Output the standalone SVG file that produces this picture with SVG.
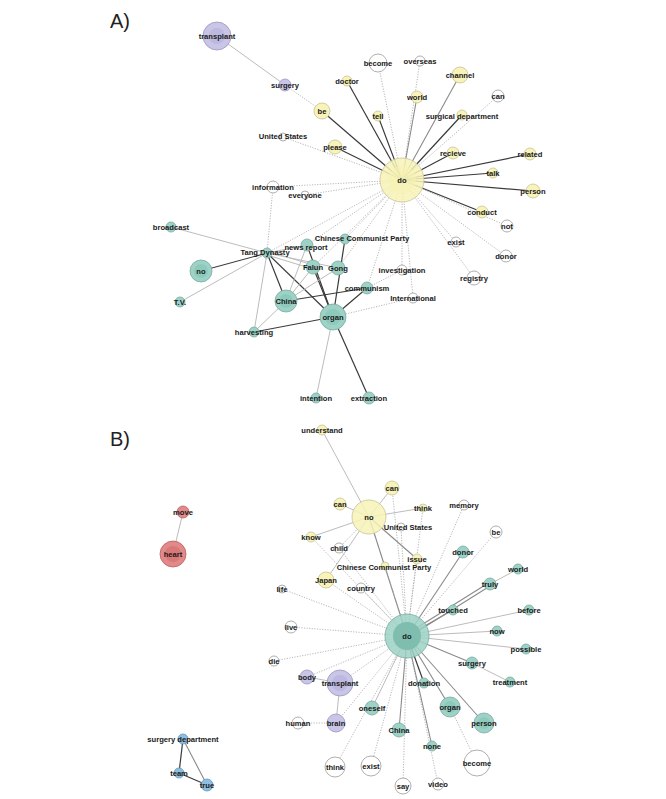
<svg xmlns="http://www.w3.org/2000/svg" width="666" height="799" viewBox="0 0 666 799">
<style>
text{font-family:"Liberation Sans",Arial,sans-serif;font-size:7.6px;font-weight:bold;fill:#1a1a1a;text-anchor:middle;dominant-baseline:central}
.panel{font-size:20px;font-weight:normal;text-anchor:start;dominant-baseline:auto;fill:#222}
.y{fill:#f7f3b9;stroke:#c8c397;stroke-width:0.8}
.t{fill:#9ed2c6;stroke:#79ab9f;stroke-width:0.8}
.p{fill:#c8c5e6;stroke:#9a96c4;stroke-width:0.8}
.w{fill:#fff;stroke:#9a9a9a;stroke-width:0.8}
.r{fill:#e28a89;stroke:#bb6060;stroke-width:0.8}
.b{fill:#8fbfe0;stroke:#6596ba;stroke-width:0.8}
.hub{fill-opacity:0.85}
.d{stroke:#3a3a3a;stroke-width:1.2;fill:none}
.m{stroke:#8a8a8a;stroke-width:1.1;fill:none}
.l{stroke:#bcbcbc;stroke-width:1;fill:none}
.o{stroke:#a6a6a6;stroke-width:0.8;stroke-dasharray:1.2 1.4;fill:none}
</style>
<text class="panel" x="110" y="28">A)</text>
<text class="panel" x="110" y="446">B)</text>
<g id="connectors">
<line class="l" x1="217" y1="36" x2="285" y2="85"/>
<line class="o" x1="285" y1="85" x2="322" y2="111"/>
<line class="d" x1="322" y1="111" x2="402" y2="180"/>
<line class="d" x1="347" y1="81" x2="402" y2="180"/>
<line class="d" x1="335" y1="147" x2="402" y2="180"/>
<line class="o" x1="283" y1="137" x2="402" y2="180"/>
<line class="o" x1="273" y1="187" x2="402" y2="180"/>
<line class="o" x1="305" y1="195" x2="402" y2="180"/>
<line class="o" x1="378" y1="63" x2="402" y2="180"/>
<line class="o" x1="420" y1="61" x2="402" y2="180"/>
<line class="m" x1="460" y1="75" x2="402" y2="180"/>
<line class="m" x1="417" y1="97" x2="402" y2="180"/>
<line class="o" x1="498" y1="96" x2="402" y2="180"/>
<line class="d" x1="378" y1="116" x2="402" y2="180"/>
<line class="d" x1="462" y1="115" x2="402" y2="180"/>
<line class="d" x1="453" y1="153" x2="402" y2="180"/>
<line class="d" x1="530" y1="154" x2="402" y2="180"/>
<line class="d" x1="493" y1="173" x2="402" y2="180"/>
<line class="d" x1="533" y1="191" x2="402" y2="180"/>
<line class="d" x1="482" y1="212" x2="402" y2="180"/>
<line class="o" x1="507" y1="226" x2="402" y2="180"/>
<line class="o" x1="456" y1="242" x2="402" y2="180"/>
<line class="o" x1="506" y1="256" x2="402" y2="180"/>
<line class="o" x1="474" y1="278" x2="402" y2="180"/>
<line class="o" x1="402" y1="270" x2="402" y2="180"/>
<line class="o" x1="413" y1="298" x2="402" y2="180"/>
<line class="o" x1="345" y1="239" x2="402" y2="180"/>
<line class="o" x1="367" y1="288" x2="402" y2="180"/>
<line class="o" x1="307" y1="245" x2="402" y2="180"/>
<line class="o" x1="267" y1="253" x2="402" y2="180"/>
<line class="o" x1="313" y1="267" x2="402" y2="180"/>
<line class="o" x1="338" y1="268" x2="402" y2="180"/>
<line class="o" x1="273" y1="187" x2="267" y2="253"/>
<line class="l" x1="171" y1="227" x2="267" y2="253"/>
<line class="d" x1="201" y1="271" x2="267" y2="253"/>
<line class="l" x1="180" y1="302" x2="267" y2="253"/>
<line class="l" x1="267" y1="253" x2="307" y2="245"/>
<line class="l" x1="267" y1="251" x2="313" y2="265"/>
<line class="l" x1="267" y1="255" x2="313" y2="269"/>
<line class="l" x1="267" y1="253" x2="338" y2="268"/>
<line class="d" x1="267" y1="253" x2="286" y2="301"/>
<line class="d" x1="267" y1="253" x2="333" y2="317"/>
<line class="l" x1="267" y1="253" x2="254" y2="332"/>
<line class="l" x1="307" y1="245" x2="286" y2="301"/>
<line class="d" x1="307" y1="245" x2="333" y2="317"/>
<line class="d" x1="345" y1="239" x2="333" y2="317"/>
<line class="d" x1="313" y1="267" x2="333" y2="317"/>
<line class="l" x1="313" y1="267" x2="286" y2="301"/>
<line class="l" x1="338" y1="268" x2="286" y2="301"/>
<line class="d" x1="286" y1="301" x2="367" y2="288"/>
<line class="d" x1="333" y1="317" x2="367" y2="288"/>
<line class="d" x1="333" y1="317" x2="254" y2="332"/>
<line class="l" x1="286" y1="301" x2="254" y2="332"/>
<line class="l" x1="333" y1="317" x2="316" y2="398"/>
<line class="d" x1="333" y1="317" x2="369" y2="398"/>
<line class="o" x1="367" y1="288" x2="402" y2="270"/>
<line class="o" x1="333" y1="317" x2="413" y2="298"/>
<line class="l" x1="173" y1="554" x2="183" y2="512"/>
<line class="d" x1="183" y1="739" x2="179" y2="773"/>
<line class="m" x1="183" y1="739" x2="207" y2="785"/>
<line class="d" x1="179" y1="773" x2="207" y2="785"/>
<line class="l" x1="369" y1="517" x2="322" y2="430"/>
<line class="l" x1="369" y1="517" x2="340" y2="504"/>
<line class="l" x1="369" y1="517" x2="311" y2="537"/>
<line class="l" x1="369" y1="517" x2="392" y2="488"/>
<line class="l" x1="369" y1="517" x2="423" y2="508"/>
<line class="m" x1="369" y1="517" x2="417" y2="559"/>
<line class="l" x1="369" y1="517" x2="326" y2="580"/>
<line class="m" x1="369" y1="517" x2="407" y2="636"/>
<line class="o" x1="369" y1="517" x2="339" y2="548"/>
<line class="o" x1="339" y1="548" x2="407" y2="636"/>
<line class="o" x1="311" y1="537" x2="407" y2="636"/>
<line class="o" x1="326" y1="580" x2="407" y2="636"/>
<line class="o" x1="282" y1="589" x2="407" y2="636"/>
<line class="o" x1="291" y1="627" x2="407" y2="636"/>
<line class="o" x1="274" y1="661" x2="407" y2="636"/>
<line class="o" x1="307" y1="677" x2="407" y2="636"/>
<line class="o" x1="340" y1="683" x2="407" y2="636"/>
<line class="o" x1="298" y1="723" x2="336" y2="723"/>
<line class="o" x1="336" y1="723" x2="407" y2="636"/>
<line class="o" x1="335" y1="767" x2="407" y2="636"/>
<line class="o" x1="371" y1="766" x2="407" y2="636"/>
<line class="o" x1="403" y1="786" x2="407" y2="636"/>
<line class="o" x1="438" y1="784" x2="407" y2="636"/>
<line class="o" x1="477" y1="763" x2="450" y2="707"/>
<line class="o" x1="361" y1="588" x2="407" y2="636"/>
<line class="o" x1="385" y1="566" x2="407" y2="636"/>
<line class="o" x1="401" y1="527" x2="407" y2="636"/>
<line class="o" x1="464" y1="505" x2="407" y2="636"/>
<line class="o" x1="496" y1="532" x2="407" y2="636"/>
<line class="o" x1="417" y1="559" x2="407" y2="636"/>
<line class="o" x1="392" y1="488" x2="407" y2="636"/>
<line class="o" x1="423" y1="508" x2="407" y2="636"/>
<line class="l" x1="307" y1="677" x2="340" y2="683"/>
<line class="l" x1="340" y1="683" x2="336" y2="723"/>
<line class="m" x1="463" y1="552" x2="407" y2="636"/>
<line class="m" x1="490" y1="582" x2="407" y2="634"/>
<line class="m" x1="490" y1="586" x2="407" y2="638"/>
<line class="l" x1="490" y1="584" x2="518" y2="569"/>
<line class="m" x1="453" y1="610" x2="407" y2="636"/>
<line class="l" x1="529" y1="610" x2="407" y2="636"/>
<line class="l" x1="497" y1="631" x2="407" y2="636"/>
<line class="l" x1="526" y1="649" x2="407" y2="636"/>
<line class="m" x1="472" y1="663" x2="407" y2="636"/>
<line class="l" x1="472" y1="663" x2="510" y2="682"/>
<line class="d" x1="424" y1="683" x2="407" y2="636"/>
<line class="m" x1="450" y1="707" x2="407" y2="636"/>
<line class="m" x1="484" y1="723" x2="407" y2="636"/>
<line class="l" x1="372" y1="708" x2="407" y2="636"/>
<line class="m" x1="399" y1="730" x2="407" y2="636"/>
<line class="m" x1="432" y1="746" x2="407" y2="636"/>
</g>
<g id="a-transplant"><circle class="p" cx="217" cy="36" r="14"/><circle cx="217" cy="36" r="8" fill="#bcb8df"/><text x="217" y="36">transplant</text></g>
<g id="a-surgery"><circle class="p" cx="285" cy="85" r="6"/><text x="285" y="85">surgery</text></g>
<g id="a-be"><circle class="y" cx="322" cy="111" r="8"/><text x="322" y="111">be</text></g>
<g id="a-doctor"><circle class="y" cx="347" cy="81" r="5"/><text x="347" y="81">doctor</text></g>
<g id="a-united-states"><circle class="w" cx="283" cy="137" r="4"/><text x="283" y="136">United States</text></g>
<g id="a-please"><circle class="y" cx="335" cy="147" r="7"/><text x="335" y="147">please</text></g>
<g id="a-information"><circle class="w" cx="273" cy="187" r="6"/><text x="273" y="187">information</text></g>
<g id="a-everyone"><circle class="w" cx="305" cy="195" r="4"/><text x="305" y="195">everyone</text></g>
<g id="a-become"><circle class="w" cx="378" cy="63" r="9"/><text x="378" y="63">become</text></g>
<g id="a-overseas"><circle class="w" cx="420" cy="61" r="5"/><text x="420" y="61">overseas</text></g>
<g id="a-channel"><circle class="y" cx="460" cy="75" r="8"/><text x="460" y="75">channel</text></g>
<g id="a-world"><circle class="y" cx="417" cy="97" r="6"/><text x="417" y="97">world</text></g>
<g id="a-can"><circle class="w" cx="498" cy="96" r="6"/><text x="498" y="96">can</text></g>
<g id="a-tell"><circle class="y" cx="378" cy="116" r="5"/><text x="378" y="116">tell</text></g>
<g id="a-surgical-department"><circle class="y" cx="462" cy="115" r="5"/><text x="462" y="116">surgical department</text></g>
<g id="a-recieve"><circle class="y" cx="453" cy="153" r="6"/><text x="453" y="153">recieve</text></g>
<g id="a-related"><circle class="y" cx="530" cy="154" r="6"/><text x="530" y="154">related</text></g>
<g id="a-talk"><circle class="y" cx="493" cy="173" r="5"/><text x="493" y="173">talk</text></g>
<g id="a-person"><circle class="y" cx="533" cy="191" r="7"/><text x="533" y="191">person</text></g>
<g id="a-do"><circle class="y hub" cx="402" cy="180" r="22"/><circle cx="402" cy="180" r="14" fill="#f6f1b2" fill-opacity="0.6"/><text x="402" y="180">do</text></g>
<g id="a-conduct"><circle class="y" cx="482" cy="212" r="6"/><text x="482" y="212">conduct</text></g>
<g id="a-not"><circle class="w" cx="507" cy="226" r="6"/><text x="507" y="226">not</text></g>
<g id="a-exist"><circle class="w" cx="456" cy="242" r="5"/><text x="456" y="242">exist</text></g>
<g id="a-donor"><circle class="w" cx="506" cy="256" r="6"/><text x="506" y="256">donor</text></g>
<g id="a-registry"><circle class="w" cx="474" cy="278" r="7"/><text x="474" y="278">registry</text></g>
<g id="a-investigation"><circle class="w" cx="402" cy="270" r="5"/><text x="402" y="270">investigation</text></g>
<g id="a-international"><circle class="w" cx="413" cy="298" r="5"/><text x="413" y="298">International</text></g>
<g id="a-broadcast"><circle class="t" cx="171" cy="227" r="5"/><text x="171" y="227">broadcast</text></g>
<g id="a-tang-dynasty"><circle class="t" cx="267" cy="253" r="5"/><text x="265" y="252">Tang Dynasty</text></g>
<g id="a-news-report"><circle class="t" cx="307" cy="245" r="6"/><text x="306" y="247">news report</text></g>
<g id="a-chinese-communist-party"><circle class="t" cx="345" cy="239" r="5"/><text x="362" y="238">Chinese Communist Party</text></g>
<g id="a-falun"><circle class="t" cx="313" cy="267" r="7"/><text x="313" y="267">Falun</text></g>
<g id="a-gong"><circle class="t" cx="338" cy="268" r="7"/><text x="338" y="268">Gong</text></g>
<g id="a-no"><circle class="t" cx="201" cy="271" r="11"/><circle cx="201" cy="271" r="7" fill="#8ecabc"/><text x="201" y="271">no</text></g>
<g id="a-tv"><circle class="t" cx="180" cy="302" r="5"/><text x="180" y="302">T.V.</text></g>
<g id="a-china"><circle class="t" cx="286" cy="301" r="11"/><circle cx="286" cy="301" r="7" fill="#8ecabc"/><text x="286" y="301">China</text></g>
<g id="a-organ"><circle class="t" cx="333" cy="317" r="13"/><circle cx="333" cy="317" r="8" fill="#8ecabc"/><text x="333" y="317">organ</text></g>
<g id="a-communism"><circle class="t" cx="367" cy="288" r="6"/><text x="367" y="288">communism</text></g>
<g id="a-harvesting"><circle class="t" cx="254" cy="332" r="5"/><text x="254" y="332">harvesting</text></g>
<g id="a-intention"><circle class="t" cx="316" cy="398" r="5"/><text x="316" y="398">intention</text></g>
<g id="a-extraction"><circle class="t" cx="369" cy="398" r="6"/><text x="369" y="398">extraction</text></g>
<g id="b-heart"><circle class="r" cx="173" cy="554" r="13"/><circle cx="173" cy="554" r="8" fill="#d87878"/><text x="173" y="554">heart</text></g>
<g id="b-move"><circle class="r" cx="183" cy="512" r="6"/><text x="183" y="512">move</text></g>
<g id="b-understand"><circle class="y" cx="322" cy="430" r="5"/><text x="322" y="430">understand</text></g>
<g id="b-can-left"><circle class="y" cx="340" cy="504" r="6"/><text x="340" y="504">can</text></g>
<g id="b-know"><circle class="y" cx="311" cy="537" r="5"/><text x="311" y="537">know</text></g>
<g id="b-child"><circle class="w" cx="339" cy="548" r="5"/><text x="339" y="548">child</text></g>
<g id="b-japan"><circle class="y" cx="326" cy="580" r="8"/><text x="326" y="580">Japan</text></g>
<g id="b-life"><circle class="w" cx="282" cy="589" r="4"/><text x="282" y="589">life</text></g>
<g id="b-no"><circle class="y hub" cx="369" cy="517" r="17"/><text x="369" y="517">no</text></g>
<g id="b-can-right"><circle class="y" cx="392" cy="488" r="7"/><text x="392" y="488">can</text></g>
<g id="b-think-y"><circle class="y" cx="423" cy="508" r="4"/><text x="423" y="508">think</text></g>
<g id="b-united-states"><circle class="w" cx="401" cy="527" r="4"/><text x="408" y="527">United States</text></g>
<g id="b-memory"><circle class="w" cx="464" cy="505" r="5"/><text x="464" y="505">memory</text></g>
<g id="b-be"><circle class="w" cx="496" cy="532" r="6"/><text x="496" y="532">be</text></g>
<g id="b-issue"><circle class="y" cx="417" cy="559" r="5"/><text x="417" y="559">issue</text></g>
<g id="b-chinese-communist-party"><circle class="y" cx="385" cy="566" r="4"/><text x="384" y="567">Chinese Communist Party</text></g>
<g id="b-donor"><circle class="t" cx="463" cy="552" r="6"/><text x="463" y="552">donor</text></g>
<g id="b-world"><circle class="t" cx="518" cy="569" r="5"/><text x="518" y="569">world</text></g>
<g id="b-truly"><circle class="t" cx="490" cy="584" r="6"/><text x="490" y="584">truly</text></g>
<g id="b-country"><circle class="w" cx="361" cy="588" r="5"/><text x="361" y="588">country</text></g>
<g id="b-touched"><circle class="t" cx="453" cy="610" r="5"/><text x="453" y="610">touched</text></g>
<g id="b-before"><circle class="t" cx="529" cy="610" r="5"/><text x="529" y="610">before</text></g>
<g id="b-do"><circle class="t hub" cx="407" cy="636" r="22"/><circle cx="407" cy="636" r="14" fill="#7fbdae"/><text x="407" y="636">do</text></g>
<g id="b-now"><circle class="t" cx="497" cy="631" r="5"/><text x="497" y="631">now</text></g>
<g id="b-possible"><circle class="t" cx="526" cy="649" r="5"/><text x="526" y="649">possible</text></g>
<g id="b-surgery"><circle class="t" cx="472" cy="663" r="6"/><text x="472" y="663">surgery</text></g>
<g id="b-treatment"><circle class="t" cx="510" cy="682" r="5"/><text x="510" y="682">treatment</text></g>
<g id="b-donation"><circle class="t" cx="424" cy="683" r="5"/><text x="424" y="683">donation</text></g>
<g id="b-organ"><circle class="t" cx="450" cy="707" r="10"/><circle cx="450" cy="707" r="6" fill="#8ecabc"/><text x="450" y="707">organ</text></g>
<g id="b-person"><circle class="t" cx="484" cy="723" r="10"/><circle cx="484" cy="723" r="6" fill="#8ecabc"/><text x="484" y="723">person</text></g>
<g id="b-oneself"><circle class="t" cx="372" cy="708" r="7"/><text x="372" y="708">oneself</text></g>
<g id="b-china"><circle class="t" cx="399" cy="730" r="7"/><text x="399" y="730">China</text></g>
<g id="b-none"><circle class="t" cx="432" cy="746" r="5"/><text x="432" y="746">none</text></g>
<g id="b-exist"><circle class="w" cx="371" cy="766" r="10"/><text x="371" y="766">exist</text></g>
<g id="b-become"><circle class="w" cx="477" cy="763" r="13"/><text x="477" y="763">become</text></g>
<g id="b-say"><circle class="w" cx="403" cy="786" r="8"/><text x="403" y="786">say</text></g>
<g id="b-video"><circle class="w" cx="438" cy="784" r="6"/><text x="438" y="784">video</text></g>
<g id="b-live"><circle class="w" cx="291" cy="627" r="6"/><text x="291" y="627">live</text></g>
<g id="b-die"><circle class="w" cx="274" cy="661" r="5"/><text x="274" y="661">die</text></g>
<g id="b-body"><circle class="p" cx="307" cy="677" r="7"/><text x="307" y="677">body</text></g>
<g id="b-transplant"><circle class="p" cx="340" cy="683" r="13"/><circle cx="340" cy="683" r="8" fill="#bcb8df"/><text x="340" y="683">transplant</text></g>
<g id="b-human"><circle class="w" cx="298" cy="723" r="6"/><text x="298" y="723">human</text></g>
<g id="b-brain"><circle class="p" cx="336" cy="723" r="9"/><text x="336" y="723">brain</text></g>
<g id="b-think"><circle class="w" cx="335" cy="767" r="10"/><text x="335" y="767">think</text></g>
<g id="b-surgery-department"><circle class="b" cx="183" cy="739" r="5"/><text x="183" y="739">surgery department</text></g>
<g id="b-team"><circle class="b" cx="179" cy="773" r="5"/><text x="179" y="773">team</text></g>
<g id="b-true"><circle class="b" cx="207" cy="785" r="6"/><text x="207" y="785">true</text></g>
</svg>
